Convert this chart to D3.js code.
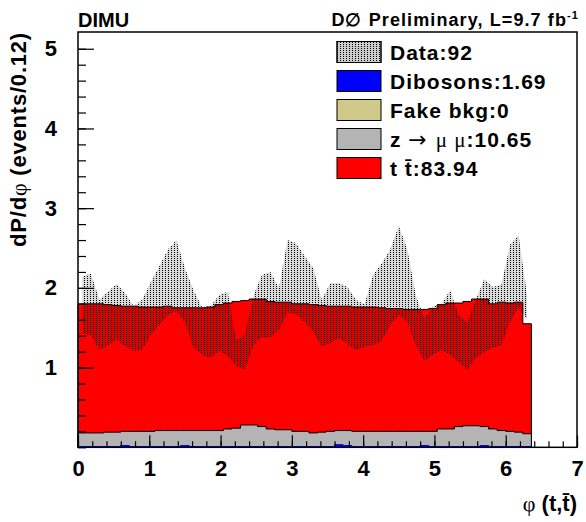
<!DOCTYPE html>
<html>
<head>
<meta charset="utf-8">
<script src="https://cdn.jsdelivr.net/npm/d3@7"></script>
<style>
body { margin: 0; background: #fff; }
text { font-family: "Liberation Sans", Arial, sans-serif; font-weight: bold; fill: #000; }
.greek { font-family: "Liberation Serif", serif; font-weight: normal; }
</style>
</head>
<body>
<div id="chart"></div>
<script>
// bin width in phi, histograms start at 0
var binWidth = 0.12;

// stacked MC, one value per bin (53 bins)
var dibosons = [0.01,0.01,0.01,0.01,0.01,0.02,0.01,0.01,0.01,0.01,0.01,0.01,0.02,0.01,0.01,0.01,0.01,0.01,0.01,0.01,
    0.01,0.01,0.01,0.01,0.01,0.01,0.01,0.01,0.01,0.01,0.03,0.02,0.01,0.01,0.01,0.01,0.01,0.01,0.01,0.01,
    0.02,0.01,0.01,0.01,0.01,0.01,0.01,0.02,0.01,0.01,0.01,0.01,0.01];
var fakeBkg = [0,0,0,0,0,0,0,0,0,0,0,0,0,0,0,0,0,0,0,0,0,0,0,0,0,0,0,0,0,0,0,0,0,0,0,0,0,0,0,0,0,0,0,0,0,0,0,0,0,0,0,0,0];
var zmumu = [0.17,0.17,0.17,0.18,0.18,0.18,0.19,0.19,0.19,0.20,0.20,0.20,0.19,0.20,0.20,0.20,0.20,0.22,0.23,0.27,
    0.27,0.25,0.22,0.21,0.21,0.19,0.19,0.17,0.18,0.19,0.18,0.19,0.19,0.19,0.19,0.19,0.19,0.19,0.19,0.19,
    0.18,0.19,0.22,0.22,0.25,0.26,0.26,0.24,0.22,0.20,0.19,0.18,0.16];
var ttbar = [1.62,1.62,1.62,1.60,1.59,1.57,1.57,1.56,1.56,1.55,1.56,1.54,1.54,1.54,1.54,1.55,1.58,1.58,1.59,1.56,
    1.58,1.60,1.60,1.60,1.60,1.60,1.60,1.61,1.59,1.57,1.56,1.56,1.56,1.56,1.56,1.55,1.54,1.54,1.53,1.53,
    1.53,1.54,1.56,1.58,1.55,1.56,1.59,1.60,1.57,1.61,1.61,1.63,1.38];

// data band (lower / upper edge) at bin centres
var dataLow = [1.43,1.40,1.22,1.28,1.35,1.27,1.21,1.22,1.41,1.53,1.66,1.71,1.57,1.25,1.16,1.12,1.21,1.15,1.02,0.97,
    1.28,1.38,1.38,1.47,1.69,1.67,1.57,1.45,1.26,1.31,1.37,1.30,1.22,1.26,1.28,1.33,1.53,1.66,1.57,1.28,
    1.08,1.16,1.22,1.16,1.07,0.97,1.12,1.20,1.25,1.28,1.57,1.76,1.60];
var dataHigh = [2.14,2.18,1.85,1.95,2.05,1.94,1.77,1.85,2.07,2.27,2.48,2.60,2.25,1.97,1.76,1.77,1.91,1.95,1.35,1.41,
    1.90,2.16,2.20,2.00,2.60,2.56,2.40,2.25,1.85,2.06,2.06,2.01,1.85,1.79,2.16,2.31,2.48,2.78,2.48,1.90,
    1.62,1.77,1.80,1.97,1.66,1.57,1.85,2.11,2.01,2.04,2.54,2.66,1.90];

var legendNames = ["Data:92", "Dibosons:1.69", "Fake bkg:0", "z \u2192 \u03bc \u03bc:10.65", "t t\u0304:83.94"];
var legendColors = ["url(#dots)", "#0000ff", "#cfc98a", "#b4b4b4", "#ff0000"];
var xTicks = [0, 1, 2, 3, 4, 5, 6, 7];
var yTicks = [1, 2, 3, 4, 5];

var width = 586, height = 522;
var margin = { top: 32, right: 9, bottom: 74.7, left: 78 };

var svg = d3.select("#chart").append("svg")
    .attr("width", width)
    .attr("height", height);

var defs = svg.append("defs");
var pat = defs.append("pattern")
    .attr("id", "dots")
    .attr("width", 3).attr("height", 2)
    .attr("patternUnits", "userSpaceOnUse");
pat.append("rect").attr("width", 3).attr("height", 2)
    .attr("fill", "#000").attr("fill-opacity", 0.15);
pat.append("rect").attr("width", 1).attr("height", 1)
    .attr("fill", "#000")
    .attr("shape-rendering", "crispEdges");

var x = d3.scaleLinear().domain([0, 7]).range([margin.left, width - margin.right]);
var y = d3.scaleLinear().domain([0, 5.21]).range([height - margin.bottom, margin.top]);

// stack the MC
var rows = ttbar.map(function(d, i) {
    return { i: i, dib: dibosons[i], fake: fakeBkg[i], z: zmumu[i], tt: ttbar[i] };
});
rows.push(Object.assign({}, rows[rows.length - 1], { i: rows.length }));   // closing edge
var keys = ["dib", "fake", "z", "tt"];
var stacked = d3.stack().keys(keys)(rows);
var fills = { dib: "#0000ff", fake: "#cfc98a", z: "#b4b4b4", tt: "#ff0000" };

var stepArea = d3.area()
    .curve(d3.curveStepAfter)
    .x(function(d) { return x(d.data.i * binWidth); })
    .y0(y(0))
    .y1(function(d) { return y(d[1]); });

// ROOT draws the cumulative histograms from the top one down
stacked.slice().reverse().forEach(function(layer) {
    svg.append("path")
        .datum(layer)
        .attr("d", stepArea)
        .attr("fill", fills[layer.key])
        .attr("stroke", layer.key == "dib" ? "#0000ff" : "#000")
        .attr("stroke-width", 1);
});

// data band
var band = d3.area()
    .x(function(d, i) { return x((i + 0.5) * binWidth); })
    .y0(function(d, i) { return y(dataLow[i]); })
    .y1(function(d, i) { return y(dataHigh[i]); });

svg.append("path")
    .attr("d", band(dataHigh))
    .attr("fill", "url(#dots)");

// axes
var xAxis = d3.axisBottom(x).tickValues(xTicks).tickSize(-12).tickPadding(13).tickSizeOuter(0).tickFormat(d3.format("d"));
var xMinor = d3.axisBottom(x).tickValues(d3.range(0, 7.01, 0.2)).tickSize(-6).tickFormat("").tickSizeOuter(0);
var yAxis = d3.axisLeft(y).tickValues(yTicks).tickSize(-16).tickPadding(21).tickSizeOuter(0).tickFormat(d3.format("d"));
var yMinor = d3.axisLeft(y).tickValues(d3.range(0, 5.2, 0.2)).tickSize(-8).tickFormat("").tickSizeOuter(0);

[xMinor, xAxis].forEach(function(ax) {
    svg.append("g").attr("transform", "translate(0," + y(0) + ")").call(ax);
});
[yMinor, yAxis].forEach(function(ax) {
    svg.append("g").attr("transform", "translate(" + x(0) + ",0)").call(ax);
});
svg.selectAll(".tick line").attr("stroke", "#000").attr("stroke-width", 1.2);
svg.selectAll(".domain").remove();
svg.selectAll(".tick text").attr("font-size", 22).attr("font-family", null);

// frame
svg.append("rect")
    .attr("x", x(0)).attr("y", y(5.21))
    .attr("width", x(7) - x(0)).attr("height", y(0) - y(5.21))
    .attr("fill", "none").attr("stroke", "#000").attr("stroke-width", 1.5);

// legend
var legend = svg.append("g").selectAll("g")
    .data(legendNames)
    .enter().append("g")
    .attr("transform", function(d, i) { return "translate(337," + (52 + i * 29) + ")"; });

legend.append("rect")
    .attr("x", 0).attr("y", -10.5)
    .attr("width", 44).attr("height", 21)
    .attr("fill", function(d, i) { return i == 0 ? "#f0f0f0" : legendColors[i]; })
    .attr("stroke", "#000").attr("stroke-width", 1);
legend.filter(function(d, i) { return i == 0; }).append("rect")
    .attr("x", 0).attr("y", -10.5)
    .attr("width", 44).attr("height", 21)
    .attr("fill", legendColors[0]).attr("stroke", "#000");

legend.append("text")
    .attr("x", 53).attr("y", 7.5)
    .attr("font-size", 21)
    .attr("letter-spacing", 1)
    .each(function(d, i) {
        var t = d3.select(this);
        if (i == 3) {
            t.append("tspan").text("z ");
            t.append("tspan").attr("font-weight", "normal").attr("font-family", "DejaVu Sans").attr("font-size", 22).text("\u2192 ");
            t.append("tspan").attr("class", "greek").text("\u03bc \u03bc");
            t.append("tspan").text(":10.65");
        } else {
            t.text(d);
        }
    });

// titles
svg.append("text").attr("x", 78).attr("y", 27).attr("font-size", 20).text("DIMU");

var lumi = svg.append("text").attr("x", 579).attr("y", 26).attr("font-size", 18)
    .attr("letter-spacing", 1.1).attr("text-anchor", "end");
lumi.append("tspan").text("D\u2205 Preliminary, L=9.7 fb");
lumi.append("tspan").attr("font-size", 11).attr("dy", -7).text("-1");

var xt = svg.append("text").attr("x", 577).attr("y", 511).attr("font-size", 22).attr("text-anchor", "end");
xt.append("tspan").attr("class", "greek").text("\u03c6");
xt.append("tspan").text(" (t,t\u0304)");

var yt = svg.append("text")
    .attr("transform", "translate(26,32) rotate(-90)")
    .attr("text-anchor", "end")
    .attr("font-size", 22)
    .attr("letter-spacing", 0.8);
yt.append("tspan").text("dP/d");
yt.append("tspan").attr("class", "greek").text("\u03c6");
yt.append("tspan").text(" (events/0.12)");
</script>
</body>
</html>
